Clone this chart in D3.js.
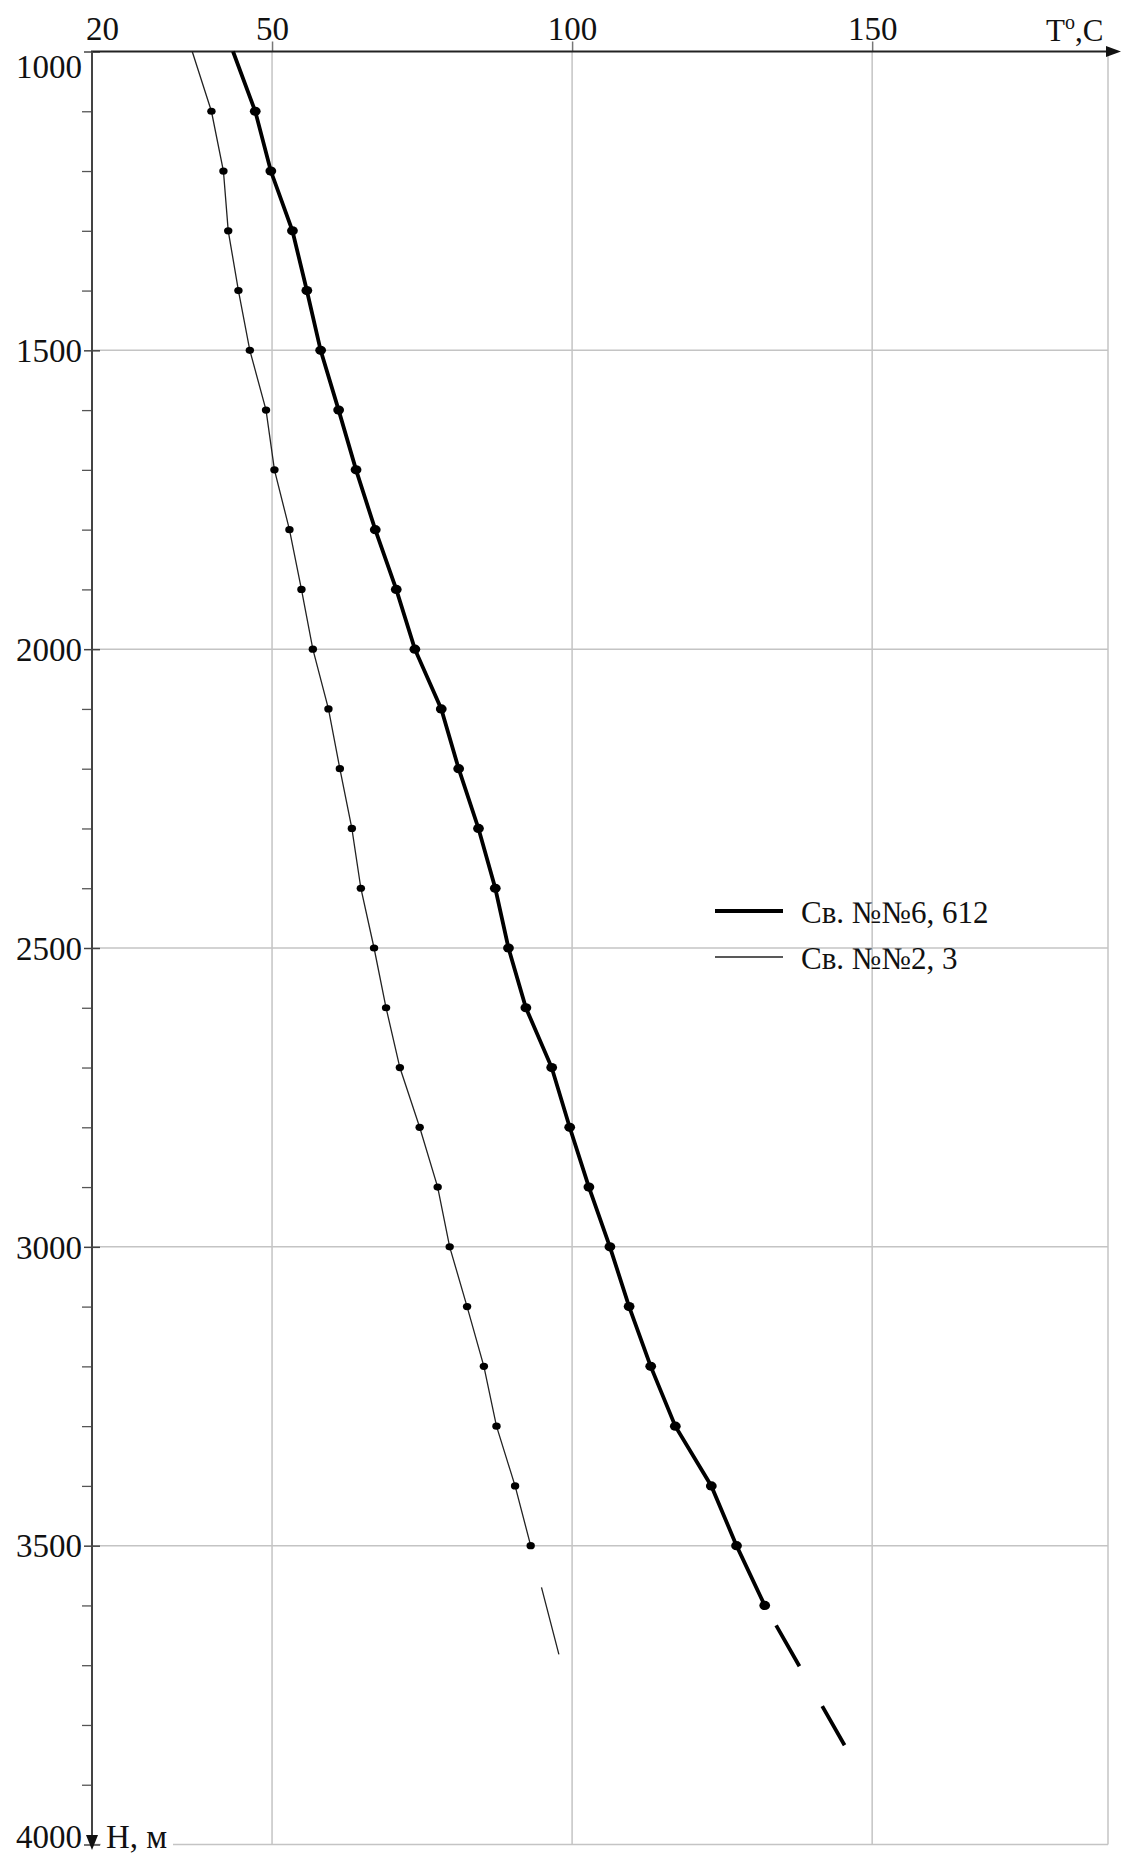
<!DOCTYPE html>
<html>
<head>
<meta charset="utf-8">
<script src="https://cdn.jsdelivr.net/npm/d3@7"></script>
<style>
  body { margin: 0; background: #fff; }
  svg { display: block; }
</style>
</head>
<body>
<div id="chart"></div>
<script>
// Well data: depth (m) and temperature (°C)
const depths6 = [1000, 1100, 1200, 1300, 1400, 1500, 1600, 1700, 1800, 1900, 2000, 2100, 2200,
                 2300, 2400, 2500, 2600, 2700, 2800, 2900, 3000, 3100, 3200, 3300, 3400, 3500, 3600];
const temps6 = [43.5, 47.2, 49.8, 53.4, 55.8, 58.1, 61.1, 64.0, 67.2, 70.7, 73.8, 78.2, 81.1,
                84.4, 87.2, 89.4, 92.3, 96.6, 99.6, 102.8, 106.3, 109.5, 113.1, 117.2, 123.2, 127.4, 132.1];

const depths2 = [1000, 1100, 1200, 1300, 1400, 1500, 1600, 1700, 1800, 1900, 2000, 2100, 2200,
                 2300, 2400, 2500, 2600, 2700, 2800, 2900, 3000, 3100, 3200, 3300, 3400, 3500];
const temps2 = [36.7, 39.9, 41.9, 42.7, 44.4, 46.3, 49.0, 50.4, 52.9, 54.9, 56.8, 59.4, 61.3,
                63.3, 64.8, 67.0, 69.0, 71.3, 74.6, 77.6, 79.6, 82.5, 85.3, 87.4, 90.5, 93.1];

// extrapolated parts (dashed)
const extDepths6 = [3600, 3834];
const extTemps6 = [132.1, 145.4];
const extDepths2 = [3500, 3682];
const extTemps2 = [93.1, 97.8];

const xTicks = [20, 50, 100, 150];
const xGridValues = [50, 100, 150, 189.3];
const yTicks = [1000, 1500, 2000, 2500, 3000, 3500, 4000];
const yMinorTicks = [1100, 1200, 1300, 1400, 1600, 1700, 1800, 1900, 2100, 2200, 2300, 2400,
                     2600, 2700, 2800, 2900, 3100, 3200, 3300, 3400, 3600, 3700, 3800, 3900];
const legendLabels = ["Св. №№6, 612", "Св. №№2, 3"];

const width = 1122, height = 1859;
const font = "'Liberation Serif', 'Times New Roman', serif";

const svg = d3.select("#chart")
    .append("svg")
    .attr("width", width)
    .attr("height", height)
    .style("font-family", font);

svg.append("rect").attr("width", width).attr("height", height).attr("fill", "#fff");

const x = d3.scaleLinear()
    .domain([20, 189.3])
    .range([92, 1108]);

const y = d3.scaleLinear()
    .domain([1000, 4000])
    .range([51.5, 1844.5]);

const toPoints = (ds, ts) => ds.map((d, i) => ({depth: d, temp: ts[i]}));
const well6 = toPoints(depths6, temps6);
const well2 = toPoints(depths2, temps2);

//Grid
const gridColor = "#c4c4c4";
svg.append("g")
    .selectAll("line")
    .data(xGridValues)
    .join("line")
    .attr("x1", d => x(d)).attr("x2", d => x(d))
    .attr("y1", y(1000)).attr("y2", y(4000))
    .attr("stroke", gridColor)
    .attr("stroke-width", 1.5);

svg.append("g")
    .selectAll("line")
    .data(yTicks.slice(1))
    .join("line")
    .attr("x1", x(20)).attr("x2", x(189.3))
    .attr("y1", d => y(d)).attr("y2", d => y(d))
    .attr("stroke", gridColor)
    .attr("stroke-width", 1.5);

//Top axis
const topAxis = svg.append("g")
    .attr("transform", `translate(0,${y(1000)})`)
    .call(d3.axisTop(x).tickValues(xTicks).tickSize(10).tickPadding(2).tickFormat(d3.format("d")))
    .attr("font-family", font)
    .attr("font-size", 33);

topAxis.select(".domain").remove();
topAxis.selectAll(".tick line").attr("stroke", "#777").attr("stroke-width", 1.5);
topAxis.selectAll(".tick").filter(d => d === 20).select("line").remove();
topAxis.selectAll(".tick text")
    .attr("fill", "#111")
    .attr("dx", d => d === 20 ? "0.3em" : 0);

//Left axis
const leftAxis = svg.append("g")
    .attr("transform", `translate(${x(20)},0)`)
    .call(d3.axisLeft(y).tickValues(yTicks).tickSize(8).tickPadding(2).tickFormat(d3.format("d")))
    .attr("font-family", font)
    .attr("font-size", 33);

leftAxis.select(".domain").remove();
leftAxis.selectAll(".tick line")
    .attr("x2", -8).attr("x1", 8)
    .attr("stroke", "#444")
    .attr("stroke-width", 1.5);
leftAxis.selectAll(".tick text")
    .attr("fill", "#111")
    .attr("dy", d => d === 1000 ? "0.8em" : (d === 4000 ? "0.08em" : "0.34em"));

const minorAxis = svg.append("g")
    .attr("transform", `translate(${x(20)},0)`)
    .call(d3.axisLeft(y).tickValues(yMinorTicks).tickSize(10).tickFormat(""));
minorAxis.select(".domain").remove();
minorAxis.selectAll(".tick line").attr("stroke", "#555").attr("stroke-width", 1.3);

// axis lines with arrows
svg.append("line")
    .attr("x1", x(20) - 1).attr("x2", 1110)
    .attr("y1", y(1000)).attr("y2", y(1000))
    .attr("stroke", "#222").attr("stroke-width", 2);
svg.append("path")
    .attr("d", `M1106,${y(1000) - 5.5}L1121,${y(1000)}L1106,${y(1000) + 5.5}Z`)
    .attr("fill", "#111");

svg.append("line")
    .attr("x1", x(20)).attr("x2", x(20))
    .attr("y1", y(1000)).attr("y2", 1838)
    .attr("stroke", "#444").attr("stroke-width", 2);
svg.append("path")
    .attr("d", `M${x(20) - 6},1835L${x(20)},1850L${x(20) + 6},1835Z`)
    .attr("fill", "#111");

// axis titles
const tTitle = svg.append("text")
    .attr("x", 1046).attr("y", 41)
    .attr("fill", "#111")
    .style("font-size", "31px");
tTitle.append("tspan").text("T");
tTitle.append("tspan").attr("dy", -12).style("font-size", "20px").text("o");
tTitle.append("tspan").attr("dy", 12).text(",C");

svg.append("rect")
    .attr("x", 101).attr("y", 1836)
    .attr("width", 72).attr("height", 16)
    .attr("fill", "#fff");
svg.append("text")
    .attr("x", 106).attr("y", 1848)
    .attr("fill", "#111")
    .style("font-size", "33px")
    .text("H, м");

//Lines
const line = d3.line()
    .x(d => x(d.temp))
    .y(d => y(d.depth));

svg.append("path")
    .datum(well2)
    .attr("fill", "none")
    .attr("stroke", "#222")
    .attr("stroke-width", 1.3)
    .attr("d", line);

svg.append("path")
    .datum(toPoints(extDepths2, extTemps2))
    .attr("fill", "none")
    .attr("stroke", "#222")
    .attr("stroke-width", 1.3)
    .attr("stroke-dasharray", "0 43 70 200")
    .attr("d", line);

svg.append("path")
    .datum(well6)
    .attr("fill", "none")
    .attr("stroke", "#000")
    .attr("stroke-width", 3.8)
    .attr("d", line);

svg.append("path")
    .datum(toPoints(extDepths6, extTemps6))
    .attr("fill", "none")
    .attr("stroke", "#000")
    .attr("stroke-width", 3.8)
    .attr("stroke-dasharray", "47 46")
    .attr("stroke-dashoffset", 70)
    .attr("d", line);

//Markers (first point at 1000 m has none)
svg.append("g")
    .selectAll("ellipse")
    .data(well2.filter(d => d.depth > 1000))
    .join("ellipse")
    .attr("cx", d => x(d.temp))
    .attr("cy", d => y(d.depth))
    .attr("rx", 4.2)
    .attr("ry", 3.6)
    .attr("fill", "#000");

svg.append("g")
    .selectAll("ellipse")
    .data(well6.filter(d => d.depth > 1000))
    .join("ellipse")
    .attr("cx", d => x(d.temp))
    .attr("cy", d => y(d.depth))
    .attr("rx", 5.4)
    .attr("ry", 4.6)
    .attr("fill", "#000");

//Legend
const legend = svg.append("g").attr("transform", "translate(715,911)");
const legendWidths = [3.8, 1.3];
legendLabels.forEach((label, i) => {
    const row = legend.append("g").attr("transform", `translate(0,${i * 46})`);
    row.append("line")
        .attr("x1", 0).attr("x2", 68)
        .attr("stroke", i === 0 ? "#000" : "#222")
        .attr("stroke-width", legendWidths[i]);
    row.append("text")
        .attr("x", 86).attr("y", 12)
        .attr("fill", "#111")
        .style("font-size", "31px")
        .text(label);
});
</script>
</body>
</html>
